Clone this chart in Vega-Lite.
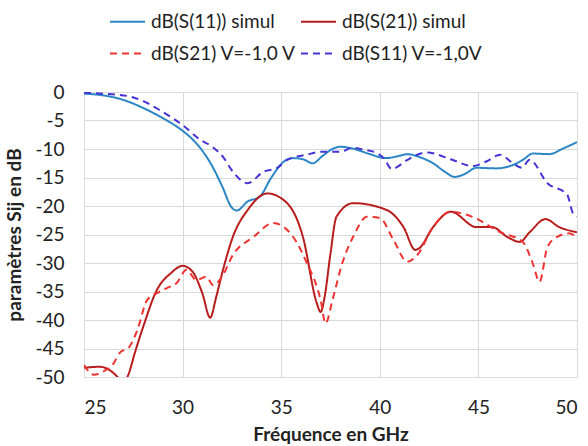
{
  "$schema": "https://vega.github.io/schema/vega-lite/v6.json",
  "width": 493,
  "height": 285,
  "autosize": {"type": "none"},
  "padding": {"left": 84, "top": 92, "right": 11, "bottom": 69},
  "background": "white",
  "config": {
    "font": "Lato",
    "view": {"stroke": null},
    "axis": {
      "gridColor": "#D9D9D9",
      "gridWidth": 1,
      "domain": false,
      "ticks": false,
      "labelFontSize": 19,
      "labelColor": "#222222",
      "titleFontSize": 19,
      "titleFontWeight": "bold",
      "titleColor": "#222222"
    },
    "legend": {
      "labelFontSize": 19,
      "labelColor": "#222222"
    }
  },
  "data": {
    "values": [
      {"f": 25, "v": -0.3, "s": "dB(S(11)) simul"},
      {"f": 26, "v": -0.6, "s": "dB(S(11)) simul"},
      {"f": 27, "v": -1.4, "s": "dB(S(11)) simul"},
      {"f": 28, "v": -2.8, "s": "dB(S(11)) simul"},
      {"f": 29, "v": -4.6, "s": "dB(S(11)) simul"},
      {"f": 30, "v": -6.8, "s": "dB(S(11)) simul"},
      {"f": 30.5, "v": -8.3, "s": "dB(S(11)) simul"},
      {"f": 31, "v": -10.3, "s": "dB(S(11)) simul"},
      {"f": 31.5, "v": -13, "s": "dB(S(11)) simul"},
      {"f": 32, "v": -16.5, "s": "dB(S(11)) simul"},
      {"f": 32.5, "v": -20.3, "s": "dB(S(11)) simul"},
      {"f": 32.75, "v": -20.8, "s": "dB(S(11)) simul"},
      {"f": 33.3, "v": -19.2, "s": "dB(S(11)) simul"},
      {"f": 33.9, "v": -18.4, "s": "dB(S(11)) simul"},
      {"f": 34.5, "v": -15, "s": "dB(S(11)) simul"},
      {"f": 35.1, "v": -12.3, "s": "dB(S(11)) simul"},
      {"f": 35.6, "v": -11.6, "s": "dB(S(11)) simul"},
      {"f": 36.1, "v": -11.8, "s": "dB(S(11)) simul"},
      {"f": 36.6, "v": -12.5, "s": "dB(S(11)) simul"},
      {"f": 37.1, "v": -11.2, "s": "dB(S(11)) simul"},
      {"f": 37.6, "v": -10, "s": "dB(S(11)) simul"},
      {"f": 38, "v": -9.6, "s": "dB(S(11)) simul"},
      {"f": 38.8, "v": -10.1, "s": "dB(S(11)) simul"},
      {"f": 39.5, "v": -10.9, "s": "dB(S(11)) simul"},
      {"f": 40.3, "v": -11.6, "s": "dB(S(11)) simul"},
      {"f": 41, "v": -11.2, "s": "dB(S(11)) simul"},
      {"f": 41.4, "v": -10.9, "s": "dB(S(11)) simul"},
      {"f": 42, "v": -11.4, "s": "dB(S(11)) simul"},
      {"f": 42.7, "v": -12.5, "s": "dB(S(11)) simul"},
      {"f": 43.3, "v": -14, "s": "dB(S(11)) simul"},
      {"f": 43.8, "v": -14.9, "s": "dB(S(11)) simul"},
      {"f": 44.3, "v": -14.4, "s": "dB(S(11)) simul"},
      {"f": 44.9, "v": -13.3, "s": "dB(S(11)) simul"},
      {"f": 45.9, "v": -13.4, "s": "dB(S(11)) simul"},
      {"f": 46.75, "v": -12.8, "s": "dB(S(11)) simul"},
      {"f": 47.3, "v": -11.8, "s": "dB(S(11)) simul"},
      {"f": 47.75, "v": -10.8, "s": "dB(S(11)) simul"},
      {"f": 48.6, "v": -10.9, "s": "dB(S(11)) simul"},
      {"f": 49.3, "v": -9.9, "s": "dB(S(11)) simul"},
      {"f": 50, "v": -8.8, "s": "dB(S(11)) simul"},

      {"f": 25, "v": -48.4, "s": "dB(S(21)) simul"},
      {"f": 25.8, "v": -48.2, "s": "dB(S(21)) simul"},
      {"f": 26.3, "v": -48.8, "s": "dB(S(21)) simul"},
      {"f": 26.7, "v": -50, "s": "dB(S(21)) simul"},
      {"f": 26.95, "v": -51, "s": "dB(S(21)) simul"},
      {"f": 27.2, "v": -50, "s": "dB(S(21)) simul"},
      {"f": 27.6, "v": -45.5, "s": "dB(S(21)) simul"},
      {"f": 28, "v": -41.2, "s": "dB(S(21)) simul"},
      {"f": 28.7, "v": -34.7, "s": "dB(S(21)) simul"},
      {"f": 29.4, "v": -31.8, "s": "dB(S(21)) simul"},
      {"f": 30, "v": -30.5, "s": "dB(S(21)) simul"},
      {"f": 30.5, "v": -31.5, "s": "dB(S(21)) simul"},
      {"f": 31, "v": -35.3, "s": "dB(S(21)) simul"},
      {"f": 31.4, "v": -39.6, "s": "dB(S(21)) simul"},
      {"f": 31.7, "v": -36, "s": "dB(S(21)) simul"},
      {"f": 32.05, "v": -31.2, "s": "dB(S(21)) simul"},
      {"f": 32.55, "v": -25.4, "s": "dB(S(21)) simul"},
      {"f": 33.3, "v": -20.7, "s": "dB(S(21)) simul"},
      {"f": 34.3, "v": -17.8, "s": "dB(S(21)) simul"},
      {"f": 35.3, "v": -19.5, "s": "dB(S(21)) simul"},
      {"f": 36.1, "v": -25.4, "s": "dB(S(21)) simul"},
      {"f": 36.8, "v": -37, "s": "dB(S(21)) simul"},
      {"f": 37, "v": -38.6, "s": "dB(S(21)) simul"},
      {"f": 37.2, "v": -36, "s": "dB(S(21)) simul"},
      {"f": 37.5, "v": -28.3, "s": "dB(S(21)) simul"},
      {"f": 37.8, "v": -21.9, "s": "dB(S(21)) simul"},
      {"f": 38.65, "v": -19.5, "s": "dB(S(21)) simul"},
      {"f": 40.35, "v": -20.7, "s": "dB(S(21)) simul"},
      {"f": 41.2, "v": -23.7, "s": "dB(S(21)) simul"},
      {"f": 41.8, "v": -27.7, "s": "dB(S(21)) simul"},
      {"f": 42, "v": -27.4, "s": "dB(S(21)) simul"},
      {"f": 42.7, "v": -23.7, "s": "dB(S(21)) simul"},
      {"f": 43.6, "v": -21, "s": "dB(S(21)) simul"},
      {"f": 44.9, "v": -23.7, "s": "dB(S(21)) simul"},
      {"f": 45.7, "v": -23.7, "s": "dB(S(21)) simul"},
      {"f": 46.45, "v": -25.4, "s": "dB(S(21)) simul"},
      {"f": 47.1, "v": -26.3, "s": "dB(S(21)) simul"},
      {"f": 47.6, "v": -24.6, "s": "dB(S(21)) simul"},
      {"f": 48.4, "v": -22.3, "s": "dB(S(21)) simul"},
      {"f": 49.1, "v": -23.7, "s": "dB(S(21)) simul"},
      {"f": 50, "v": -24.6, "s": "dB(S(21)) simul"},

      {"f": 25, "v": -47.9, "s": "dB(S21) V=-1,0 V"},
      {"f": 25.5, "v": -49.6, "s": "dB(S21) V=-1,0 V"},
      {"f": 26, "v": -49, "s": "dB(S21) V=-1,0 V"},
      {"f": 26.5, "v": -47.6, "s": "dB(S21) V=-1,0 V"},
      {"f": 26.8, "v": -45.8, "s": "dB(S21) V=-1,0 V"},
      {"f": 27.3, "v": -44.7, "s": "dB(S21) V=-1,0 V"},
      {"f": 27.7, "v": -41.8, "s": "dB(S21) V=-1,0 V"},
      {"f": 28.2, "v": -36.5, "s": "dB(S21) V=-1,0 V"},
      {"f": 28.7, "v": -35.3, "s": "dB(S21) V=-1,0 V"},
      {"f": 29.2, "v": -34.4, "s": "dB(S21) V=-1,0 V"},
      {"f": 29.7, "v": -33.5, "s": "dB(S21) V=-1,0 V"},
      {"f": 30.2, "v": -31.2, "s": "dB(S21) V=-1,0 V"},
      {"f": 30.7, "v": -33, "s": "dB(S21) V=-1,0 V"},
      {"f": 31.2, "v": -32.4, "s": "dB(S21) V=-1,0 V"},
      {"f": 31.55, "v": -33.9, "s": "dB(S21) V=-1,0 V"},
      {"f": 32, "v": -32.4, "s": "dB(S21) V=-1,0 V"},
      {"f": 32.55, "v": -28.6, "s": "dB(S21) V=-1,0 V"},
      {"f": 33.6, "v": -25.4, "s": "dB(S21) V=-1,0 V"},
      {"f": 34.6, "v": -23, "s": "dB(S21) V=-1,0 V"},
      {"f": 35.6, "v": -25.4, "s": "dB(S21) V=-1,0 V"},
      {"f": 36.3, "v": -30, "s": "dB(S21) V=-1,0 V"},
      {"f": 37, "v": -36.5, "s": "dB(S21) V=-1,0 V"},
      {"f": 37.25, "v": -40.6, "s": "dB(S21) V=-1,0 V"},
      {"f": 37.6, "v": -36.5, "s": "dB(S21) V=-1,0 V"},
      {"f": 38.1, "v": -30, "s": "dB(S21) V=-1,0 V"},
      {"f": 38.65, "v": -25.4, "s": "dB(S21) V=-1,0 V"},
      {"f": 39.35, "v": -21.9, "s": "dB(S21) V=-1,0 V"},
      {"f": 40, "v": -22.1, "s": "dB(S21) V=-1,0 V"},
      {"f": 40.7, "v": -26, "s": "dB(S21) V=-1,0 V"},
      {"f": 41.4, "v": -29.8, "s": "dB(S21) V=-1,0 V"},
      {"f": 41.9, "v": -28.6, "s": "dB(S21) V=-1,0 V"},
      {"f": 42.7, "v": -23.7, "s": "dB(S21) V=-1,0 V"},
      {"f": 43.6, "v": -21, "s": "dB(S21) V=-1,0 V"},
      {"f": 44.7, "v": -21.9, "s": "dB(S21) V=-1,0 V"},
      {"f": 46.1, "v": -24.6, "s": "dB(S21) V=-1,0 V"},
      {"f": 47.25, "v": -26.3, "s": "dB(S21) V=-1,0 V"},
      {"f": 47.75, "v": -30, "s": "dB(S21) V=-1,0 V"},
      {"f": 48.1, "v": -33.3, "s": "dB(S21) V=-1,0 V"},
      {"f": 48.5, "v": -27.2, "s": "dB(S21) V=-1,0 V"},
      {"f": 49, "v": -25.4, "s": "dB(S21) V=-1,0 V"},
      {"f": 49.6, "v": -24.8, "s": "dB(S21) V=-1,0 V"},
      {"f": 50, "v": -25.6, "s": "dB(S21) V=-1,0 V"},

      {"f": 25, "v": -0.1, "s": "dB(S11) V=-1,0V"},
      {"f": 26, "v": -0.3, "s": "dB(S11) V=-1,0V"},
      {"f": 27.2, "v": -0.7, "s": "dB(S11) V=-1,0V"},
      {"f": 28, "v": -1.6, "s": "dB(S11) V=-1,0V"},
      {"f": 28.85, "v": -3.2, "s": "dB(S11) V=-1,0V"},
      {"f": 30, "v": -5.8, "s": "dB(S11) V=-1,0V"},
      {"f": 30.9, "v": -8.4, "s": "dB(S11) V=-1,0V"},
      {"f": 31.5, "v": -9.6, "s": "dB(S11) V=-1,0V"},
      {"f": 32.05, "v": -11.4, "s": "dB(S11) V=-1,0V"},
      {"f": 32.55, "v": -14, "s": "dB(S11) V=-1,0V"},
      {"f": 33.3, "v": -16, "s": "dB(S11) V=-1,0V"},
      {"f": 34.1, "v": -14, "s": "dB(S11) V=-1,0V"},
      {"f": 34.8, "v": -13.3, "s": "dB(S11) V=-1,0V"},
      {"f": 35.3, "v": -11.9, "s": "dB(S11) V=-1,0V"},
      {"f": 36.3, "v": -11, "s": "dB(S11) V=-1,0V"},
      {"f": 37, "v": -10.5, "s": "dB(S11) V=-1,0V"},
      {"f": 38, "v": -10.5, "s": "dB(S11) V=-1,0V"},
      {"f": 38.6, "v": -9.8, "s": "dB(S11) V=-1,0V"},
      {"f": 39.3, "v": -10.2, "s": "dB(S11) V=-1,0V"},
      {"f": 39.7, "v": -10.5, "s": "dB(S11) V=-1,0V"},
      {"f": 40.2, "v": -11.6, "s": "dB(S11) V=-1,0V"},
      {"f": 40.6, "v": -13.5, "s": "dB(S11) V=-1,0V"},
      {"f": 41.4, "v": -11.9, "s": "dB(S11) V=-1,0V"},
      {"f": 41.9, "v": -11, "s": "dB(S11) V=-1,0V"},
      {"f": 42.4, "v": -10.6, "s": "dB(S11) V=-1,0V"},
      {"f": 43.6, "v": -11.8, "s": "dB(S11) V=-1,0V"},
      {"f": 44.7, "v": -13, "s": "dB(S11) V=-1,0V"},
      {"f": 45.4, "v": -12.2, "s": "dB(S11) V=-1,0V"},
      {"f": 46.1, "v": -11, "s": "dB(S11) V=-1,0V"},
      {"f": 46.75, "v": -12.5, "s": "dB(S11) V=-1,0V"},
      {"f": 47.2, "v": -13.3, "s": "dB(S11) V=-1,0V"},
      {"f": 47.6, "v": -11.9, "s": "dB(S11) V=-1,0V"},
      {"f": 48.5, "v": -16, "s": "dB(S11) V=-1,0V"},
      {"f": 49.5, "v": -18, "s": "dB(S11) V=-1,0V"},
      {"f": 49.8, "v": -21.3, "s": "dB(S11) V=-1,0V"},
      {"f": 50, "v": -21.8, "s": "dB(S11) V=-1,0V"}
    ]
  },
  "mark": {"type": "line", "interpolate": "monotone", "strokeWidth": 2, "clip": true},
  "encoding": {
    "x": {
      "field": "f",
      "type": "quantitative",
      "title": "Fréquence en GHz",
      "scale": {"domain": [25, 50], "nice": false},
      "axis": {"values": [25, 30, 35, 40, 45, 50], "labelPadding": 21, "titlePadding": 8}
    },
    "y": {
      "field": "v",
      "type": "quantitative",
      "title": "paramètres Sij en dB",
      "scale": {"domain": [-50, 0], "nice": false},
      "axis": {
        "values": [-50, -45, -40, -35, -30, -25, -20, -15, -10, -5, 0],
        "labelExpr": "replace(datum.label, '−', '-')",
        "labelPadding": 20,
        "titlePadding": 10
      }
    },
    "color": {
      "field": "s",
      "type": "nominal",
      "scale": {
        "domain": ["dB(S(11)) simul", "dB(S21) V=-1,0 V", "dB(S(21)) simul", "dB(S11) V=-1,0V"],
        "range": ["#2B86C5", "#EE3333", "#B81C1C", "#4433D6"]
      },
      "legend": {
        "title": null,
        "orient": "none",
        "legendX": 25,
        "legendY": -89,
        "columns": 2,
        "symbolType": "stroke",
        "symbolSize": 1225,
        "symbolStrokeWidth": 2,
        "rowPadding": 3,
        "columnPadding": 0,
        "labelOffset": 5
      }
    },
    "strokeDash": {
      "field": "s",
      "type": "nominal",
      "scale": {
        "domain": ["dB(S(11)) simul", "dB(S21) V=-1,0 V", "dB(S(21)) simul", "dB(S11) V=-1,0V"],
        "range": [[1, 0], [7, 5], [1, 0], [7, 5]]
      },
      "legend": null
    }
  }
}
